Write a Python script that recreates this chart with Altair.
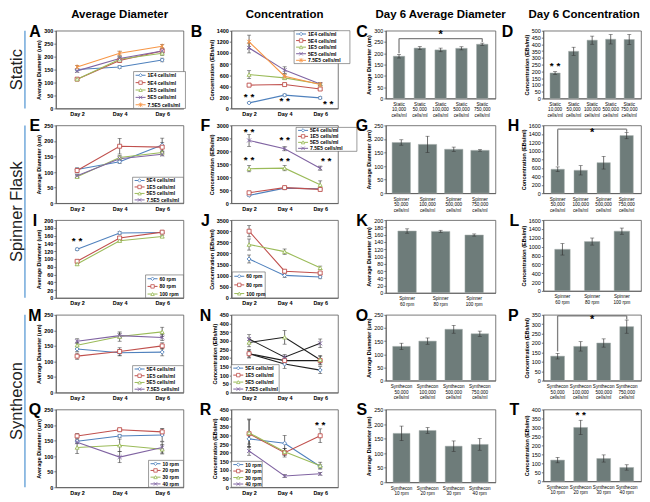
import altair as alt
import pandas as pd

FONT = "Liberation Sans"
NARROW = "Liberation Sans Narrow, Arial Narrow, Liberation Sans"
DAYS = ["Day 2", "Day 4", "Day 6"]
COLORS = ["#4F81BD", "#C0504D", "#9BBB59", "#8064A2", "#F79646"]
X_PATH = "M-1,-1L1,1M-1,1L1,-1"
STAR_PATH = "M-1,-1L1,1M-1,1L1,-1M0,-1.3L0,1.3"
SHAPES = ["diamond", "square", "triangle-up", X_PATH, STAR_PATH]
BAR_COLOR = "#6e7c7a"
ERR = "#333333"
FRAME = "#595959"
BRACKET = "#808080"
ROWBLUE = "#5B9BD5"

CELLS5 = ["1E4 cells/ml", "5E4 cells/ml", "1E5 cells/ml", "5E5 cells/ml", "7.5E5 cells/ml"]
CELLS4 = ["5E4 cells/ml", "1E5 cells/ml", "5E5 cells/ml", "7.5E5 cells/ml"]
SPIN_RPM = ["60 rpm", "80 rpm", "100 rpm"]
SYN_RPM = ["10 rpm", "20 rpm", "30 rpm", "40 rpm"]

STATIC_CATS = ["Static|10,000|cells/ml", "Static|50,000|cells/ml", "Static|100,000|cells/ml",
               "Static|500,000|cells/ml", "Static|750,000|cells/ml"]
SPIN_CATS = ["Spinner|50,000|cells/ml", "Spinner|100,000|cells/ml",
             "Spinner|500,000|cells/ml", "Spinner|750,000|cells/ml"]
SPIN_RPM_CATS = ["Spinner|60 rpm", "Spinner|80 rpm", "Spinner|100 rpm"]
SYN_CATS = ["Synthecon|50,000|cells/ml", "Synthecon|100,000|cells/ml",
            "Synthecon|500,000|cells/ml", "Synthecon|750,000|cells/ml"]
SYN_RPM_CATS = ["Synthecon|10 rpm", "Synthecon|20 rpm", "Synthecon|30 rpm", "Synthecon|40 rpm"]

# ---- values ----
A_VAL = [[150, 160, 187], [113, 185, 222], [113, 190, 213], [145, 193, 222], [160, 213, 240]]
A_ERR = [[4, 5, 7], [5, 7, 8], [5, 7, 8], [5, 7, 6], [6, 8, 7]]
B_VAL = [[100, 240, 190], [420, 430, 350], [610, 550, 440], [1090, 690, 440], [1200, 580, 430]]
B_ERR = [[15, 20, 20], [30, 25, 20], [70, 30, 20], [90, 60, 20], [120, 40, 25]]
B_STARS = [("Day 2", 200, 0), ("Day 4", 130, 0), ("Day 6", 75, 8)]
C_VAL = [187, 223, 215, 222, 240]
C_ERR = [8, 7, 8, 7, 5]
D_VAL = [188, 348, 430, 437, 435]
D_ERR = [10, 30, 30, 35, 37]

E_VAL = [[108, 133, 187], [105, 183, 180], [85, 147, 163], [88, 143, 157]]
E_ERR = [[5, 6, 22], [8, 25, 15], [4, 6, 5], [4, 6, 5]]
F_VAL = [[300, 580, 550], [400, 600, 530], [1330, 1350, 710], [2420, 2100, 1350]]
F_ERR = [[30, 40, 40], [40, 50, 60], [120, 100, 150], [230, 80, 80]]
F_STARS = [("Day 2", 2760, 0), ("Day 2", 1650, 0), ("Day 4", 2420, 0), ("Day 4", 1620, 0), ("Day 6", 1640, 6)]
G_VAL = [187, 180, 162, 158]
G_ERR = [10, 30, 8, 3]
H_VAL = [565, 540, 720, 1360]
H_ERR = [55, 110, 150, 75]

I_VAL = [[125, 167, 168], [94, 154, 169], [87, 147, 158]]
I_ERR = [[3, 4, 3], [3, 4, 4], [3, 3, 3]]
I_STARS = [("Day 2", 145, 0)]
J_VAL = [[1750, 1010, 940], [3000, 1200, 1120], [2400, 2080, 1350]]
J_ERR = [[180, 100, 80], [250, 60, 70], [250, 120, 80]]
K_VAL = [170, 169, 159]
K_ERR = [6, 3, 3]
L_VAL = [940, 1115, 1350]
L_ERR = [130, 80, 70]

M_VAL = [[140, 128, 130], [117, 132, 150], [152, 180, 195], [165, 183, 177]]
M_ERR = [[8, 10, 12], [10, 12, 10], [10, 15, 15], [8, 8, 10]]
N_VAL = [[225, 165, 130], [225, 185, 185], [290, 320, 190], [310, 205, 285]]
N_ERR = [[20, 25, 20], [25, 20, 25], [25, 40, 25], [25, 15, 25]]
O_VAL = [130, 150, 195, 178]
O_ERR = [12, 12, 15, 10]
P_VAL = [130, 182, 200, 287]
P_ERR = [15, 25, 22, 35]

Q_VAL = [[148, 165, 168], [165, 185, 178], [128, 135, 122], [145, 97, 128]]
Q_ERR = [[5, 5, 20], [8, 5, 10], [20, 20, 15], [5, 18, 18]]
R_VAL = [[280, 255, 120], [310, 200, 298], [315, 205, 125], [210, 65, 78]]
R_ERR = [[30, 45, 10], [80, 25, 40], [80, 20, 20], [25, 8, 8]]
R_STARS = [("Day 6", 362, 0)]
S_VAL = [168, 178, 124, 130]
S_ERR = [25, 10, 18, 20]
T_VAL = [118, 300, 127, 77]
T_ERR = [15, 40, 20, 15]

W1, W2, W3, W4 = 128, 107, 110, 98
HL = 78
ROWGAP = 17


def title_params(text, dx=0):
    return alt.TitleParams(text, fontSize=11.5, fontWeight="bold", font=FONT, offset=3,
                           anchor="middle", color="black", dx=dx)


def letter_layer(letter, lx, ly=1):
    return alt.Chart(pd.DataFrame({"t": [letter]})).mark_text(
        fontSize=16, fontWeight="bold", font=FONT, baseline="middle", align="center", color="black"
    ).encode(x=alt.value(lx), y=alt.value(ly), text="t:N")


def row_label_layers(label, span):
    txt = alt.Chart(pd.DataFrame({"t": [label]})).mark_text(
        fontSize=16.5, font=FONT, angle=270, baseline="middle", align="center", color="#222222"
    ).encode(x=alt.value(-39), y=alt.value(span / 2), text="t:N")
    line = alt.Chart(pd.DataFrame({"t": [label]})).mark_rule(color=ROWBLUE, strokeWidth=1.3).encode(
        x=alt.value(-31), y=alt.value(0), y2=alt.value(span))
    return [txt, line]


def y_axis(title, ymax, step, bold):
    return alt.Axis(title=title, values=list(range(0, ymax + 1, step)), format="d", labelFontSize=5.5,
                    labelFontWeight="bold" if bold else "normal", titleFontSize=5.5,
                    titleFontWeight="bold", tickSize=2, labelPadding=1, titlePadding=2)


def line_panel(series, vals, errs, ymax, step, ytitle, box, letter, lx, width,
               stars=(), title=None, dark_lines=False, row_label=None):
    k = len(series)
    rows = []
    for s, vs, es in zip(series, vals, errs):
        for d, v, e in zip(DAYS, vs, es):
            rows.append({"series": s, "day": d, "value": v, "lo": v - e, "hi": v + e})
    df = pd.DataFrame(rows)
    color = alt.Color("series:N", scale=alt.Scale(domain=series, range=COLORS[:k]), legend=None)
    shape = alt.Shape("series:N", scale=alt.Scale(domain=series, range=SHAPES[:k]), legend=None)
    xaxis = alt.Axis(title=None, labelFontSize=5.5, labelFontWeight="bold", labelPadding=3,
                     ticks=False, labelAngle=0)
    x = alt.X("day:N", sort=DAYS, scale=alt.Scale(domain=DAYS, type="point", padding=0.5), axis=xaxis)
    yscale = alt.Scale(domain=[0, ymax], nice=False, zero=True)
    yax = y_axis(ytitle, ymax, step, True)

    def Y(f):
        return alt.Y(f"{f}:Q", scale=yscale, axis=yax)

    base = alt.Chart(df)
    err = base.mark_rule(color=ERR, strokeWidth=0.7).encode(x=x, y=Y("lo"), y2="hi:Q")
    cap_lo = base.mark_tick(color=ERR, size=4, thickness=0.7).encode(x=x, y=Y("lo"))
    cap_hi = base.mark_tick(color=ERR, size=4, thickness=0.7).encode(x=x, y=Y("hi"))
    if dark_lines:
        line = base.mark_line(strokeWidth=1.1, color="#1e1e1e").encode(x=x, y=Y("value"), detail="series:N")
    else:
        line = base.mark_line(strokeWidth=1.1).encode(x=x, y=Y("value"), color=color)
    pts = base.mark_point(size=16, strokeWidth=0.9, fill="white", opacity=1).encode(
        x=x, y=Y("value"), color=color, shape=shape)
    layers = [err, cap_lo, cap_hi, line, pts]
    for d, v, dx in stars:
        layers.append(alt.Chart(pd.DataFrame({"day": [d], "value": [v], "t": ["* *"]})).mark_text(
            fontSize=10, fontWeight="bold", font=FONT, baseline="middle", dx=dx, color="black"
        ).encode(x=x, y=Y("value"), text="t:N"))
    main = alt.layer(*layers)

    x0, x1, y0, y1 = box
    half = (y1 - y0) / (2 * k)
    ly = alt.Y("series:N", sort=series,
               scale=alt.Scale(domain=series, range=[y0 + half, y1 - half], type="point", padding=0),
               axis=None)
    legdf = pd.DataFrame({"series": series})
    lbox = alt.Chart(pd.DataFrame({"a": [0]})).mark_rect(fill="white", stroke=FRAME, strokeWidth=0.6).encode(
        x=alt.value(x0), x2=alt.value(x1), y=alt.value(y0), y2=alt.value(y1))
    lline = alt.Chart(legdf).mark_rule(strokeWidth=1).encode(
        x=alt.value(x0 + 2), x2=alt.value(x0 + 12), y=ly, color=color)
    lpt = alt.Chart(legdf).mark_point(size=12, strokeWidth=0.8, fill="white", opacity=1).encode(
        x=alt.value(x0 + 7), y=ly, color=color, shape=shape)
    ltxt = alt.Chart(legdf).mark_text(align="left", baseline="middle", fontSize=5, fontWeight="bold",
                                      font=FONT, color="black").encode(
        x=alt.value(x0 + 14), y=ly, text="series:N")
    legend = alt.layer(lbox, lline, lpt, ltxt)

    deco = [letter_layer(letter, lx)]
    if row_label:
        deco += row_label_layers(*row_label)
    ch = alt.layer(main, legend, *deco).resolve_scale(y="independent").properties(width=width, height=HL)
    if title:
        ch = ch.properties(title=title)
    return ch


def bar_panel(cats, vals, errs, ymax, step, ytitle, letter, lx, width, height, pad=0.4,
              bracket=None, mid_star=None, bar_stars=(), title=None):
    df = pd.DataFrame({"cat": cats, "value": vals,
                       "lo": [v - e for v, e in zip(vals, errs)],
                       "hi": [v + e for v, e in zip(vals, errs)]})
    xscale = alt.Scale(domain=cats, paddingInner=pad, paddingOuter=pad * 0.8)
    xaxis = alt.Axis(title=None, labelAngle=0, labelExpr="split(datum.label, '|')", labelFontSize=4.6,
                     labelFont=NARROW, labelLineHeight=5.5, ticks=False, labelPadding=3)
    x = alt.X("cat:N", sort=cats, scale=xscale, axis=xaxis)
    yscale = alt.Scale(domain=[0, ymax], nice=False, zero=True)
    yax = y_axis(ytitle, ymax, step, False)

    def Y(f):
        return alt.Y(f"{f}:Q", scale=yscale, axis=yax)

    base = alt.Chart(df)
    layers = [
        base.mark_bar(color=BAR_COLOR, stroke="#a7b1af", strokeWidth=0.5).encode(x=x, y=Y("value")),
        base.mark_rule(color=ERR, strokeWidth=0.7).encode(x=x, y=Y("lo"), y2="hi:Q"),
        base.mark_tick(color=ERR, size=4, thickness=0.7).encode(x=x, y=Y("lo")),
        base.mark_tick(color=ERR, size=4, thickness=0.7).encode(x=x, y=Y("hi")),
    ]
    if bracket:
        i0, i1, level, b0, b1 = bracket
        hdf = pd.DataFrame({"cat": [cats[i0]], "c2": [cats[i1]], "value": [level]})
        layers.append(alt.Chart(hdf).mark_rule(color=BRACKET, strokeWidth=1.3).encode(
            x=x, x2="c2:N", y=Y("value")))
        vdf = pd.DataFrame({"cat": [cats[i0], cats[i1]], "lo": [b0, b1], "hi": [level, level]})
        layers.append(alt.Chart(vdf).mark_rule(color=BRACKET, strokeWidth=1.3).encode(
            x=x, y=Y("lo"), y2="hi:Q"))
    if mid_star is not None:
        layers.append(alt.Chart(pd.DataFrame({"value": [mid_star], "t": ["*"]})).mark_text(
            fontSize=11, fontWeight="bold", font=FONT, baseline="middle", color="black"
        ).encode(x=alt.value(width / 2), y=Y("value"), text="t:N"))
    for i, v in bar_stars:
        layers.append(alt.Chart(pd.DataFrame({"cat": [cats[i]], "value": [v], "t": ["* *"]})).mark_text(
            fontSize=10, fontWeight="bold", font=FONT, baseline="middle", color="black"
        ).encode(x=x, y=Y("value"), text="t:N"))
    layers.append(letter_layer(letter, lx))
    ch = alt.layer(*layers).properties(width=width, height=height)
    if title:
        ch = ch.properties(title=title)
    return ch


AD = "Average Diameter (um)"
CO = "Concentration (EBs/ml)"
SPAN2 = 2 * HL + ROWGAP

pA = line_panel(CELLS5, A_VAL, A_ERR, 300, 50, AD, (78, 130, 41, HL), "A", -21, W1,
                title=title_params("Average Diameter"), row_label=("Static", HL))
pB = line_panel(CELLS5, B_VAL, B_ERR, 1400, 200, CO, (63, 119, 0, 33), "B", -35, W2,
                stars=B_STARS, title=title_params("Concentration"))
pC = bar_panel(STATIC_CATS, C_VAL, C_ERR, 300, 50, AD, "C", -24, W3, 68, pad=0.45,
               bracket=(0, 4, 265, 200, 250), mid_star=283, title=title_params("Day 6 Average Diameter"))
pD = bar_panel(STATIC_CATS, D_VAL, D_ERR, 500, 50, CO, "D", -36, W4, 68, pad=0.45,
               bar_stars=[(0, 238)], title=title_params("Day 6 Concentration", dx=-8))

pE = line_panel(CELLS4, E_VAL, E_ERR, 250, 50, AD, (77, 128, 52, HL), "E", -21, W1,
                row_label=("Spinner Flask", SPAN2))
pF = line_panel(CELLS4, F_VAL, F_ERR, 3000, 500, CO, (65, 126, 2, 26), "F", -26, W2, stars=F_STARS)
pG = bar_panel(SPIN_CATS, G_VAL, G_ERR, 250, 50, AD, "G", -24, W3, 68, pad=0.3)
pH = bar_panel(SPIN_CATS, H_VAL, H_ERR, 1600, 200, CO, "H", -30, W4, 68, pad=0.42,
               bracket=(0, 3, 1510, 650, 1450), mid_star=1420)

pI = line_panel(SPIN_RPM, I_VAL, I_ERR, 200, 20, AD, (90, 128, 55, HL), "I", -21, W1, stars=I_STARS)
pJ = line_panel(SPIN_RPM, J_VAL, J_ERR, 3500, 500, CO, (1, 34, 52, HL), "J", -26, W2)
pK = bar_panel(SPIN_RPM_CATS, K_VAL, K_ERR, 200, 20, AD, "K", -24, W3, 73, pad=0.45)
pL = bar_panel(SPIN_RPM_CATS, L_VAL, L_ERR, 1600, 200, CO, "L", -29, W4, 71, pad=0.48)

pM = line_panel(CELLS4, M_VAL, M_ERR, 250, 50, AD, (77, 128, 51, HL), "M", -21, W1,
                row_label=("Synthecon", SPAN2))
pN = line_panel(CELLS4, N_VAL, N_ERR, 450, 50, CO, (0, 48, 50, HL), "N", -26, W2, dark_lines=True)
pO = bar_panel(SYN_CATS, O_VAL, O_ERR, 250, 50, AD, "O", -24, W3, 66, pad=0.33)
pP = bar_panel(SYN_CATS, P_VAL, P_ERR, 350, 50, CO, "P", -30, W4, 66, pad=0.4,
               bracket=(0, 3, 345, 155, 325), mid_star=322)

pQ = line_panel(SYN_RPM, Q_VAL, Q_ERR, 250, 50, AD, (93, 128, 51, HL), "Q", -21, W1)
pR = line_panel(SYN_RPM, R_VAL, R_ERR, 450, 50, CO, (0, 31, 52, HL), "R", -26, W2, stars=R_STARS)
pS = bar_panel(SYN_RPM_CATS, S_VAL, S_ERR, 250, 50, AD, "S", -24, W3, 73, pad=0.35)
pT = bar_panel(SYN_RPM_CATS, T_VAL, T_ERR, 400, 50, CO, "T", -29, W4, 72, pad=0.4,
               bar_stars=[(1, 372)])

chart = alt.concat(
    pA, pB, pC, pD, pE, pF, pG, pH, pI, pJ, pK, pL, pM, pN, pO, pP, pQ, pR, pS, pT,
    columns=4, spacing={"row": ROWGAP, "column": 48}, bounds="flush", align="each"
).resolve_scale(color="independent", shape="independent").properties(padding=0).configure_view(
    stroke=FRAME, strokeWidth=0.8
).configure_axis(
    labelFont=FONT, titleFont=FONT, labelColor="black", titleColor="black",
    domainColor=FRAME, tickColor=FRAME, domainWidth=0.8, tickWidth=0.8, grid=False
)

chart.save("out.html", embed_options={"renderer": "svg", "actions": False})
